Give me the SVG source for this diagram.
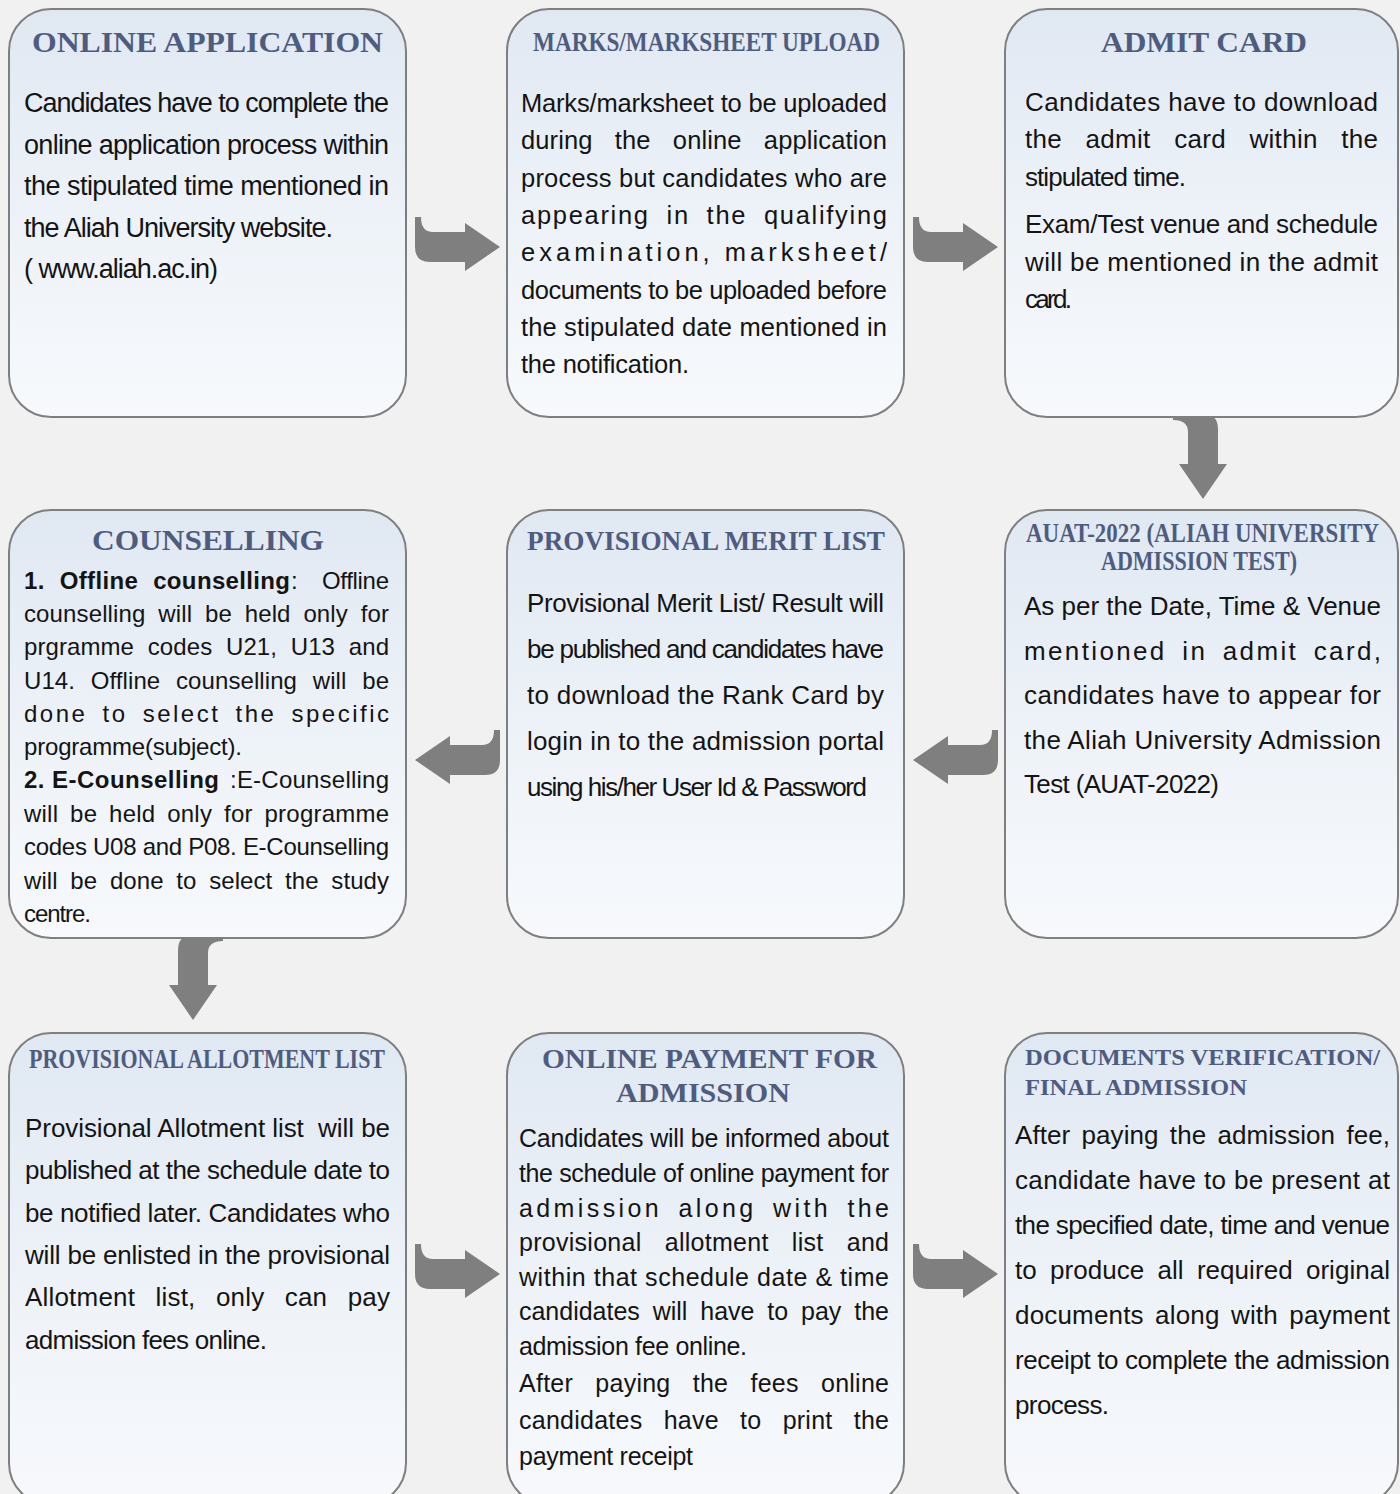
<svg xmlns="http://www.w3.org/2000/svg" xmlns:xlink="http://www.w3.org/1999/xlink" width="1400" height="1494" viewBox="0 0 1400 1494">
<defs>
<linearGradient id="bg" x1="0" y1="0" x2="0" y2="1">
<stop offset="0" stop-color="#e0e8f2"/>
<stop offset="0.5" stop-color="#edf2f8"/>
<stop offset="1" stop-color="#f7f9fc"/>
</linearGradient>
<path id="arr" d="M0,0 L6,0 Q6,15 18,15 L50,15 L50,6 L85,30 L50,54 L50,45 L15,45 Q0,45 0,30 Z"/>
<style>
.box{fill:url(#bg);stroke:#7f7f7f;stroke-width:2}
.t{font-family:"Liberation Serif","Times New Roman",serif;font-weight:bold;fill:#4e5c80}
.b{font-family:"Liberation Sans",Arial,sans-serif;fill:#141414}
.bb{font-weight:bold}
.arrow{fill:#7f7f7f}
</style>
</defs>
<rect x="0" y="0" width="1400" height="1494" fill="#f1f1f1"/>

<g id="connectors" class="arrow">
<use xlink:href="#arr" transform="translate(415,217)"/>
<use xlink:href="#arr" transform="translate(913,217)"/>
<use xlink:href="#arr" transform="matrix(0,1,1,0,1173,414)"/>
<use xlink:href="#arr" transform="matrix(-1,0,0,1,998,730)"/>
<use xlink:href="#arr" transform="matrix(-1,0,0,1,500,730)"/>
<use xlink:href="#arr" transform="matrix(0,1,-1,0,223,935)"/>
<use xlink:href="#arr" transform="translate(415,1244)"/>
<use xlink:href="#arr" transform="translate(913,1244)"/>
</g>

<g id="online-application">
<rect class="box" x="9" y="9" width="397" height="408" rx="42"/>
<text class="t" x="32" y="52" font-size="30" textLength="351" lengthAdjust="spacingAndGlyphs">ONLINE APPLICATION</text>
<g class="b" font-size="27">
<text x="24" y="112" textLength="365" lengthAdjust="spacing">Candidates have to complete the</text>
<text x="24" y="153.5" textLength="365" lengthAdjust="spacing">online application process within</text>
<text x="24" y="195" textLength="365" lengthAdjust="spacing">the stipulated time mentioned in</text>
<text x="24" y="237" textLength="309" lengthAdjust="spacing">the Aliah University website.</text>
<text x="24" y="278" textLength="194" lengthAdjust="spacing">( www.aliah.ac.in)</text>
</g>
</g>

<g id="marksheet-upload">
<rect class="box" x="507" y="9" width="397" height="408" rx="42"/>
<text class="t" x="533" y="51" font-size="27" textLength="347" lengthAdjust="spacingAndGlyphs">MARKS/MARKSHEET UPLOAD</text>
<g class="b" font-size="25.5">
<text x="521" y="111.5" textLength="366" lengthAdjust="spacing">Marks/marksheet to be uploaded</text>
<text x="521" y="149" textLength="366" lengthAdjust="spacing" style="word-spacing:15px">during the online application</text>
<text x="521" y="186.5" textLength="366" lengthAdjust="spacing">process but candidates who are</text>
<text x="521" y="224" textLength="366" lengthAdjust="spacing" style="word-spacing:8px">appearing in the qualifying</text>
<text x="521" y="261" textLength="366" lengthAdjust="spacing">examination, marksheet/</text>
<text x="521" y="298.5" textLength="366" lengthAdjust="spacing">documents to be uploaded before</text>
<text x="521" y="336" textLength="366" lengthAdjust="spacing">the stipulated date mentioned in</text>
<text x="521" y="373" textLength="168" lengthAdjust="spacing">the notification.</text>
</g>
</g>

<g id="admit-card">
<rect class="box" x="1005" y="9" width="393" height="408" rx="42"/>
<text class="t" x="1101" y="52" font-size="30" textLength="206" lengthAdjust="spacingAndGlyphs">ADMIT CARD</text>
<g class="b" font-size="26">
<text x="1025" y="110.5" textLength="353" lengthAdjust="spacing">Candidates have to download</text>
<text x="1025" y="148" textLength="353" lengthAdjust="spacing" style="word-spacing:16px">the admit card within the</text>
<text x="1025" y="186" textLength="161" lengthAdjust="spacing">stipulated time.</text>
<text x="1025" y="233" textLength="353" lengthAdjust="spacing">Exam/Test venue and schedule</text>
<text x="1025" y="270.5" textLength="353" lengthAdjust="spacing">will be mentioned in the admit</text>
<text x="1025" y="308" textLength="47" lengthAdjust="spacing">card.</text>
</g>
</g>

<g id="auat-2022">
<rect class="box" x="1005" y="510" width="393" height="428" rx="42"/>
<text class="t" x="1026" y="542" font-size="26.5" textLength="353" lengthAdjust="spacingAndGlyphs">AUAT-2022 (ALIAH UNIVERSITY</text>
<text class="t" x="1101" y="570" font-size="26.5" textLength="196" lengthAdjust="spacingAndGlyphs">ADMISSION TEST)</text>
<g class="b" font-size="26">
<text x="1024" y="615" textLength="357" lengthAdjust="spacing">As per the Date, Time &amp; Venue</text>
<text x="1024" y="659.5" textLength="357" lengthAdjust="spacing" style="word-spacing:6px">mentioned in admit card,</text>
<text x="1024" y="704" textLength="357" lengthAdjust="spacing">candidates have to appear for</text>
<text x="1024" y="748.5" textLength="357" lengthAdjust="spacing">the Aliah University Admission</text>
<text x="1024" y="793" textLength="195" lengthAdjust="spacing">Test (AUAT-2022)</text>
</g>
</g>

<g id="provisional-merit-list">
<rect class="box" x="507" y="510" width="397" height="428" rx="42"/>
<text class="t" x="527" y="550" font-size="28" textLength="358" lengthAdjust="spacingAndGlyphs">PROVISIONAL MERIT LIST</text>
<g class="b" font-size="26">
<text x="527" y="611.5" textLength="357" lengthAdjust="spacing">Provisional Merit List/ Result will</text>
<text x="527" y="658" textLength="357" lengthAdjust="spacing">be published and candidates have</text>
<text x="527" y="704" textLength="357" lengthAdjust="spacing">to download the Rank Card by</text>
<text x="527" y="750" textLength="357" lengthAdjust="spacing">login in to the admission portal</text>
<text x="527" y="795.5" textLength="340" lengthAdjust="spacing">using his/her User Id &amp; Password</text>
</g>
</g>

<g id="counselling">
<rect class="box" x="9" y="510" width="397" height="428" rx="42"/>
<text class="t" x="92" y="550" font-size="30" textLength="232" lengthAdjust="spacingAndGlyphs">COUNSELLING</text>
<g class="b" font-size="24">
<text class="bb" x="24" y="588.5" textLength="266" lengthAdjust="spacing" style="word-spacing:8px">1. Offline counselling</text>
<text x="291" y="588.5">:</text>
<text x="322" y="588.5" textLength="67" lengthAdjust="spacing">Offline</text>
<text x="24" y="622" textLength="365" lengthAdjust="spacing" style="word-spacing:6px">counselling will be held only for</text>
<text x="24" y="655" textLength="365" lengthAdjust="spacing" style="word-spacing:7px">prgramme codes U21, U13 and</text>
<text x="24" y="688.5" textLength="365" lengthAdjust="spacing" style="word-spacing:9px">U14. Offline counselling will be</text>
<text x="24" y="721.5" textLength="365" lengthAdjust="spacing" style="word-spacing:6px">done to select the specific</text>
<text x="24" y="755" textLength="218" lengthAdjust="spacing">programme(subject).</text>
<text class="bb" x="24" y="788" textLength="195" lengthAdjust="spacing">2. E-Counselling</text>
<text x="230" y="788" textLength="159" lengthAdjust="spacing">:E-Counselling</text>
<text x="24" y="821.5" textLength="365" lengthAdjust="spacing" style="word-spacing:5px">will be held only for programme</text>
<text x="24" y="855" textLength="365" lengthAdjust="spacing">codes U08 and P08. E-Counselling</text>
<text x="24" y="888.5" textLength="365" lengthAdjust="spacing" style="word-spacing:6px">will be done to select the study</text>
<text x="24" y="921.5" textLength="67" lengthAdjust="spacing">centre.</text>
</g>
</g>

<g id="provisional-allotment-list">
<rect class="box" x="9" y="1033" width="397" height="472" rx="42"/>
<text class="t" x="29" y="1068" font-size="27" textLength="356" lengthAdjust="spacingAndGlyphs">PROVISIONAL ALLOTMENT LIST</text>
<g class="b" font-size="26">
<text x="25" y="1136.5" textLength="365" lengthAdjust="spacing" xml:space="preserve">Provisional Allotment list  will be</text>
<text x="25" y="1179" textLength="365" lengthAdjust="spacing">published at the schedule date to</text>
<text x="25" y="1221.5" textLength="365" lengthAdjust="spacing">be notified later. Candidates who</text>
<text x="25" y="1263.5" textLength="365" lengthAdjust="spacing">will be enlisted in the provisional</text>
<text x="25" y="1306" textLength="365" lengthAdjust="spacing" style="word-spacing:13px">Allotment list, only can pay</text>
<text x="25" y="1348.5" textLength="242" lengthAdjust="spacing">admission fees online.</text>
</g>
</g>

<g id="online-payment">
<rect class="box" x="507" y="1033" width="397" height="472" rx="42"/>
<text class="t" x="542" y="1068" font-size="28" textLength="335" lengthAdjust="spacingAndGlyphs">ONLINE PAYMENT FOR</text>
<text class="t" x="616" y="1102" font-size="28" textLength="174" lengthAdjust="spacingAndGlyphs">ADMISSION</text>
<g class="b" font-size="25">
<text x="519" y="1146.5" textLength="370" lengthAdjust="spacing">Candidates will be informed about</text>
<text x="519" y="1181.5" textLength="370" lengthAdjust="spacing">the schedule of online payment for</text>
<text x="519" y="1216.5" textLength="370" lengthAdjust="spacing" style="word-spacing:6px">admission along with the</text>
<text x="519" y="1251" textLength="370" lengthAdjust="spacing" style="word-spacing:16px">provisional allotment list and</text>
<text x="519" y="1285.5" textLength="370" lengthAdjust="spacing">within that schedule date &amp; time</text>
<text x="519" y="1320" textLength="370" lengthAdjust="spacing" style="word-spacing:6px">candidates will have to pay the</text>
<text x="519" y="1354.5" textLength="228" lengthAdjust="spacing">admission fee online.</text>
<text x="519" y="1392" textLength="370" lengthAdjust="spacing" style="word-spacing:15px">After paying the fees online</text>
<text x="519" y="1428.5" textLength="370" lengthAdjust="spacing" style="word-spacing:14px">candidates have to print the</text>
<text x="519" y="1465" textLength="174" lengthAdjust="spacing">payment receipt</text>
</g>
</g>

<g id="documents-verification">
<rect class="box" x="1005" y="1033" width="393" height="472" rx="42"/>
<text class="t" x="1025" y="1065" font-size="23" textLength="355" lengthAdjust="spacingAndGlyphs">DOCUMENTS VERIFICATION/</text>
<text class="t" x="1025" y="1095" font-size="23" textLength="222" lengthAdjust="spacingAndGlyphs">FINAL ADMISSION</text>
<g class="b" font-size="26">
<text x="1015" y="1144" textLength="375" lengthAdjust="spacing" style="word-spacing:4px">After paying the admission fee,</text>
<text x="1015" y="1189" textLength="375" lengthAdjust="spacing">candidate have to be present at</text>
<text x="1015" y="1234" textLength="375" lengthAdjust="spacing">the specified date, time and venue</text>
<text x="1015" y="1279" textLength="375" lengthAdjust="spacing" style="word-spacing:6px">to produce all required original</text>
<text x="1015" y="1324" textLength="375" lengthAdjust="spacing" style="word-spacing:4px">documents along with payment</text>
<text x="1015" y="1369" textLength="375" lengthAdjust="spacing">receipt to complete the admission</text>
<text x="1015" y="1414" textLength="94" lengthAdjust="spacing">process.</text>
</g>
</g>
</svg>
